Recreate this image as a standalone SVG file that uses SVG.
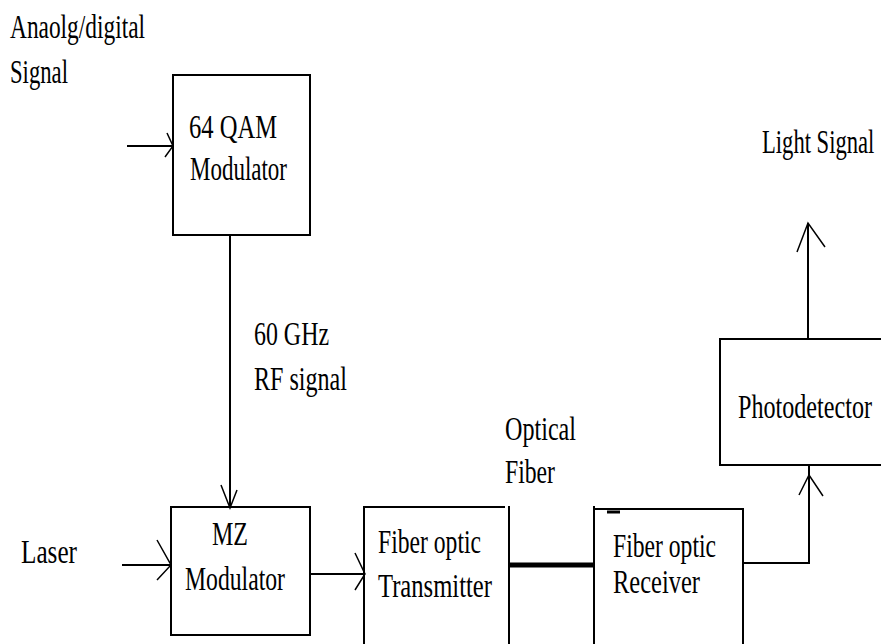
<svg xmlns="http://www.w3.org/2000/svg" width="881" height="644" viewBox="0 0 881 644">
<style>
.box{fill:none;stroke:#000;stroke-width:2}
.ln{fill:none;stroke:#000;stroke-width:2}
.hd{fill:none;stroke:#000;stroke-width:1.5}
text{font-family:"Liberation Serif","Times New Roman",serif;font-size:34px;fill:#000}
</style>
<rect width="881" height="644" fill="#fff"/>
<g id="labels">
<text x="10" y="38" textLength="135" lengthAdjust="spacingAndGlyphs">Anaolg/digital</text>
<text x="10" y="83" textLength="58" lengthAdjust="spacingAndGlyphs">Signal</text>
<text x="254" y="345" textLength="75" lengthAdjust="spacingAndGlyphs">60 GHz</text>
<text x="254" y="390" textLength="93" lengthAdjust="spacingAndGlyphs">RF signal</text>
<text x="21" y="563" textLength="56" lengthAdjust="spacingAndGlyphs">Laser</text>
<text x="505" y="440" textLength="71" lengthAdjust="spacingAndGlyphs">Optical</text>
<text x="505" y="483" textLength="50" lengthAdjust="spacingAndGlyphs">Fiber</text>
<text transform="translate(762,153) scale(0.665,1)">Light Signal</text>
</g>
<g id="qam">
<rect class="box" x="173" y="75" width="137" height="160"/>
<text x="189" y="138" textLength="88" lengthAdjust="spacingAndGlyphs">64 QAM</text>
<text x="190" y="180" textLength="97" lengthAdjust="spacingAndGlyphs">Modulator</text>
</g>
<g id="mz">
<rect class="box" x="171" y="507" width="139" height="128"/>
<text x="212" y="545" textLength="36" lengthAdjust="spacingAndGlyphs">MZ</text>
<text x="185" y="590" textLength="100" lengthAdjust="spacingAndGlyphs">Modulator</text>
</g>
<g id="transmitter">
<polyline class="box" points="364,646 364,507 505,507"/>
<line class="box" x1="509" y1="506" x2="509" y2="646"/>
<text x="378" y="553" textLength="103" lengthAdjust="spacingAndGlyphs">Fiber optic</text>
<text x="378" y="597" textLength="114" lengthAdjust="spacingAndGlyphs">Transmitter</text>
</g>
<g id="receiver">
<line class="box" x1="594" y1="506" x2="594" y2="646"/>
<polyline class="box" points="594,509 743,509 743,646"/>
<line x1="607" y1="512" x2="620" y2="512" stroke="#000" stroke-width="3"/>
<text x="613" y="557" textLength="103" lengthAdjust="spacingAndGlyphs">Fiber optic</text>
<text x="613" y="593" textLength="87" lengthAdjust="spacingAndGlyphs">Receiver</text>
</g>
<g id="photodetector">
<polyline class="box" points="883,339 720,339 720,465 883,465"/>
<text transform="translate(738,418) scale(0.71,1)">Photodetector</text>
</g>
<g id="connectors">
<line class="ln" x1="127" y1="146" x2="172" y2="146"/>
<polyline class="hd" points="167,133 173,146 165,157"/>
<line class="ln" x1="230" y1="235" x2="230" y2="506"/>
<polyline class="hd" points="221,485 230,508 237,490"/>
<line class="ln" x1="122" y1="565" x2="170" y2="565"/>
<polyline class="hd" points="157,540 171,565 157,580"/>
<line class="ln" x1="310" y1="574" x2="364" y2="574"/>
<polyline class="hd" points="355,553 365,574 355,590"/>
<line x1="509" y1="565" x2="594" y2="565" stroke="#000" stroke-width="5"/>
<polyline class="ln" points="743,563 809,563 809,465"/>
<polyline class="hd" points="799,495 809,475 823,496"/>
<line class="ln" x1="808" y1="339" x2="808" y2="223"/>
<polyline class="hd" points="797,252 808,223 825,247"/>
</g>
</svg>
